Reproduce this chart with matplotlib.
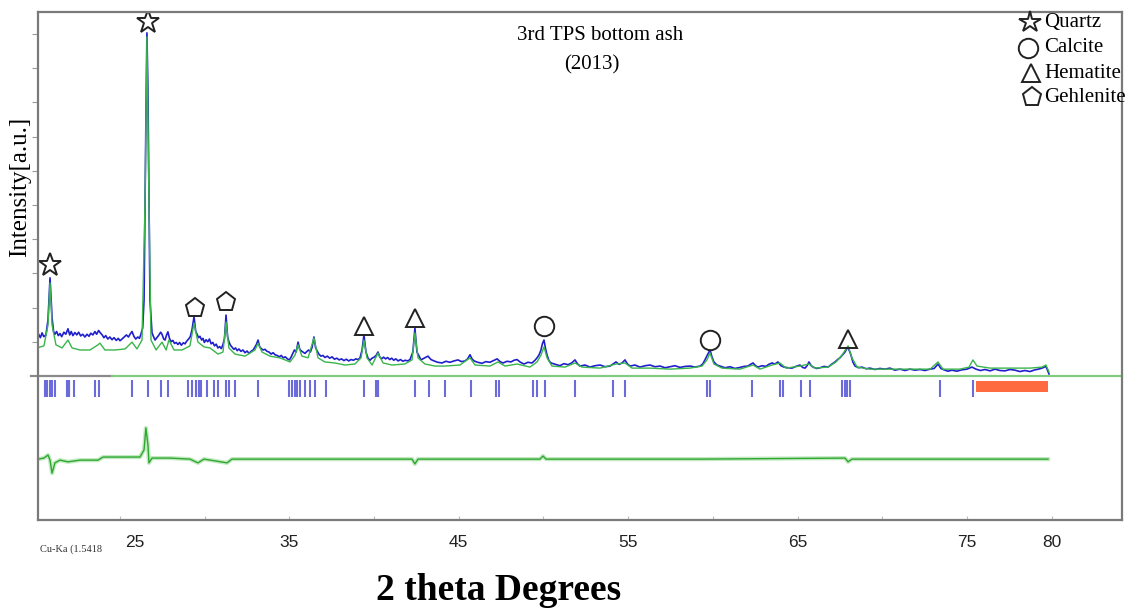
import matplotlib
matplotlib.use("Agg")
import matplotlib.pyplot as plt
from matplotlib.transforms import ScaledTranslation

# observed pattern (blue): (2theta in degrees, intensity in a.u.)
obs_pts = [
    (20.10, 1.14), (20.20, 1.22), (20.30, 1.12), (20.40, 1.26), (20.50, 1.15), (20.63, 1.20),
    (20.75, 1.64), (20.87, 2.87), (20.99, 1.70), (21.08, 1.30), (21.16, 1.22), (21.26, 1.30),
    (21.36, 1.18), (21.46, 1.24), (21.56, 1.15), (21.69, 1.28), (21.80, 1.22), (21.93, 1.38),
    (22.03, 1.20), (22.12, 1.30), (22.22, 1.18), (22.34, 1.27), (22.45, 1.20), (22.56, 1.28),
    (22.68, 1.17), (22.80, 1.22), (22.93, 1.14), (23.05, 1.22), (23.17, 1.16), (23.28, 1.25),
    (23.40, 1.20), (23.52, 1.30), (23.62, 1.22), (23.74, 1.33), (23.84, 1.26), (23.95, 1.20),
    (24.05, 1.12), (24.16, 1.18), (24.28, 1.08), (24.40, 1.14), (24.53, 1.06), (24.65, 1.12),
    (24.78, 1.04), (24.90, 1.10), (25.00, 1.03), (25.12, 1.08), (25.25, 1.14), (25.38, 1.20),
    (25.50, 1.14), (25.62, 1.24), (25.71, 1.30), (25.82, 1.16), (25.93, 1.08), (26.05, 1.14),
    (26.15, 1.10), (26.24, 1.23), (26.34, 1.40), (26.42, 2.22), (26.53, 7.49), (26.59, 10.03),
    (26.65, 8.36), (26.77, 2.22), (26.89, 1.26), (26.98, 1.15), (27.07, 1.05), (27.18, 1.12),
    (27.30, 1.20), (27.40, 1.28), (27.48, 1.22), (27.58, 1.08), (27.66, 1.05), (27.75, 1.20),
    (27.83, 1.29), (27.92, 1.10), (28.02, 1.00), (28.12, 1.04), (28.22, 0.95), (28.32, 0.98),
    (28.42, 0.92), (28.52, 0.98), (28.62, 0.90), (28.74, 0.97), (28.84, 0.94), (28.94, 1.02),
    (29.05, 1.08), (29.15, 1.15), (29.25, 1.35), (29.37, 1.73), (29.47, 1.30), (29.55, 1.22),
    (29.64, 1.12), (29.72, 1.16), (29.82, 1.05), (29.90, 1.10), (29.98, 0.98), (30.08, 1.06),
    (30.18, 1.00), (30.28, 1.08), (30.38, 0.94), (30.48, 0.98), (30.58, 0.88), (30.68, 0.93),
    (30.78, 0.82), (30.88, 0.86), (30.98, 0.80), (31.08, 0.92), (31.17, 1.10), (31.26, 1.78),
    (31.35, 1.15), (31.43, 1.00), (31.52, 0.90), (31.62, 0.84), (31.72, 0.78), (31.82, 0.82),
    (31.92, 0.74), (32.02, 0.79), (32.14, 0.72), (32.26, 0.76), (32.38, 0.68), (32.50, 0.73),
    (32.62, 0.66), (32.74, 0.72), (32.86, 0.76), (32.96, 0.84), (33.05, 0.92), (33.15, 1.05),
    (33.24, 0.86), (33.34, 0.80), (33.45, 0.76), (33.56, 0.78), (33.68, 0.72), (33.80, 0.70),
    (33.92, 0.64), (34.04, 0.68), (34.15, 0.62), (34.28, 0.60), (34.40, 0.56), (34.52, 0.60),
    (34.64, 0.53), (34.76, 0.56), (34.88, 0.50), (35.00, 0.47), (35.10, 0.55), (35.20, 0.66),
    (35.30, 0.76), (35.40, 0.70), (35.51, 0.99), (35.60, 0.80), (35.68, 0.74), (35.80, 0.70),
    (35.92, 0.66), (36.04, 0.72), (36.14, 0.76), (36.24, 0.70), (36.34, 0.84), (36.45, 1.14),
    (36.55, 0.82), (36.63, 0.74), (36.74, 0.64), (36.86, 0.58), (36.98, 0.60), (37.10, 0.54),
    (37.24, 0.58), (37.38, 0.52), (37.52, 0.56), (37.66, 0.49), (37.80, 0.52), (37.94, 0.47),
    (38.08, 0.50), (38.22, 0.45), (38.36, 0.49), (38.50, 0.44), (38.64, 0.48), (38.78, 0.46),
    (38.92, 0.50), (39.06, 0.48), (39.17, 0.53), (39.29, 0.76), (39.40, 1.20), (39.52, 0.70),
    (39.64, 0.52), (39.76, 0.46), (39.88, 0.52), (40.00, 0.55), (40.12, 0.60), (40.23, 0.70),
    (40.33, 0.56), (40.44, 0.50), (40.56, 0.55), (40.68, 0.50), (40.80, 0.54), (40.92, 0.48),
    (41.04, 0.52), (41.16, 0.46), (41.28, 0.50), (41.42, 0.44), (41.56, 0.48), (41.70, 0.43),
    (41.84, 0.46), (41.98, 0.44), (42.12, 0.48), (42.29, 0.70), (42.41, 1.40), (42.53, 0.70),
    (42.77, 0.47), (42.95, 0.52), (43.18, 0.58), (43.36, 0.48), (43.54, 0.44), (43.76, 0.40),
    (44.01, 0.38), (44.24, 0.43), (44.48, 0.40), (44.72, 0.44), (44.95, 0.47), (45.16, 0.42),
    (45.37, 0.44), (45.52, 0.50), (45.66, 0.62), (45.78, 0.50), (45.90, 0.44), (46.12, 0.40),
    (46.37, 0.37), (46.60, 0.42), (46.84, 0.40), (47.05, 0.45), (47.26, 0.50), (47.44, 0.42),
    (47.61, 0.38), (47.85, 0.43), (48.08, 0.41), (48.26, 0.46), (48.44, 0.48), (48.64, 0.40),
    (48.85, 0.35), (49.08, 0.40), (49.32, 0.38), (49.50, 0.46), (49.62, 0.53), (49.74, 0.62),
    (49.85, 0.76), (49.94, 0.95), (50.03, 1.05), (50.12, 0.80), (50.21, 0.61), (50.32, 0.45),
    (50.44, 0.38), (50.70, 0.34), (50.97, 0.30), (51.20, 0.36), (51.45, 0.33), (51.66, 0.38),
    (51.86, 0.47), (52.00, 0.36), (52.15, 0.29), (52.45, 0.32), (52.74, 0.26), (53.04, 0.30),
    (53.34, 0.32), (53.64, 0.27), (53.93, 0.29), (54.10, 0.35), (54.28, 0.41), (54.46, 0.34),
    (54.64, 0.38), (54.81, 0.47), (54.96, 0.35), (55.11, 0.29), (55.40, 0.32), (55.70, 0.26),
    (56.00, 0.30), (56.29, 0.32), (56.58, 0.27), (56.88, 0.29), (57.18, 0.24), (57.47, 0.27),
    (57.76, 0.30), (58.06, 0.25), (58.36, 0.28), (58.65, 0.29), (58.94, 0.26), (59.24, 0.29),
    (59.40, 0.35), (59.53, 0.47), (59.68, 0.62), (59.83, 0.76), (59.95, 0.55), (60.06, 0.41),
    (60.24, 0.32), (60.42, 0.29), (60.72, 0.24), (61.01, 0.27), (61.30, 0.22), (61.60, 0.25),
    (61.84, 0.28), (62.07, 0.29), (62.22, 0.34), (62.37, 0.38), (62.52, 0.30), (62.66, 0.26),
    (62.90, 0.30), (63.13, 0.28), (63.30, 0.34), (63.49, 0.38), (63.66, 0.35), (63.84, 0.41),
    (64.02, 0.30), (64.20, 0.26), (64.44, 0.24), (64.67, 0.23), (64.90, 0.28), (65.14, 0.32),
    (65.30, 0.25), (65.44, 0.23), (65.56, 0.30), (65.67, 0.41), (65.80, 0.30), (65.91, 0.26),
    (66.12, 0.22), (66.32, 0.24), (66.56, 0.28), (66.80, 0.26), (67.00, 0.34), (67.21, 0.41),
    (67.36, 0.48), (67.50, 0.53), (67.66, 0.62), (67.80, 0.70), (67.90, 0.80), (67.98, 0.82),
    (68.07, 0.72), (68.15, 0.61), (68.27, 0.40), (68.39, 0.29), (68.60, 0.24), (68.80, 0.26),
    (69.04, 0.21), (69.27, 0.23), (69.56, 0.19), (69.86, 0.22), (70.16, 0.20), (70.45, 0.23),
    (70.74, 0.17), (71.04, 0.20), (71.34, 0.16), (71.63, 0.20), (71.93, 0.17), (72.23, 0.19),
    (72.52, 0.16), (72.82, 0.20), (73.06, 0.22), (73.29, 0.35), (73.46, 0.22), (73.64, 0.18),
    (73.88, 0.14), (74.11, 0.17), (74.40, 0.14), (74.70, 0.18), (75.00, 0.20), (75.29, 0.26),
    (75.53, 0.20), (75.80, 0.16), (76.06, 0.19), (76.36, 0.15), (76.65, 0.20), (76.95, 0.16),
    (77.24, 0.15), (77.54, 0.19), (77.83, 0.17), (78.12, 0.13), (78.42, 0.16), (78.72, 0.13),
    (79.01, 0.18), (79.22, 0.20), (79.43, 0.23), (79.66, 0.28), (79.84, 0.06),
]
obs_x, obs_y = zip(*obs_pts)

# calculated pattern (green)
calc_pts = [
    (20.10, 0.82), (20.51, 0.88), (20.75, 1.49), (20.87, 2.72), (20.99, 1.49), (21.22, 0.91),
    (21.58, 0.82), (21.93, 1.05), (22.17, 0.82), (22.64, 0.76), (23.23, 0.76), (23.70, 0.91),
    (23.82, 0.96), (24.11, 0.76), (24.70, 0.76), (25.30, 0.79), (25.71, 0.99), (26.00, 0.79),
    (26.30, 1.05), (26.48, 5.12), (26.59, 9.91), (26.71, 5.12), (26.83, 1.05), (27.13, 0.76),
    (27.48, 0.99), (27.72, 0.76), (27.89, 1.05), (28.19, 0.76), (28.66, 0.76), (29.13, 0.88),
    (29.37, 1.55), (29.60, 0.99), (29.96, 0.85), (30.31, 0.82), (30.79, 0.64), (31.08, 0.70),
    (31.26, 1.58), (31.43, 0.82), (31.79, 0.64), (32.38, 0.58), (32.97, 0.76), (33.15, 0.96),
    (33.38, 0.70), (33.85, 0.58), (34.44, 0.53), (35.04, 0.41), (35.33, 0.61), (35.51, 0.91),
    (35.74, 0.58), (36.10, 0.53), (36.45, 1.11), (36.69, 0.53), (37.10, 0.41), (37.69, 0.38),
    (38.28, 0.32), (38.87, 0.35), (39.23, 0.53), (39.40, 1.05), (39.58, 0.53), (39.88, 0.32),
    (40.23, 0.67), (40.53, 0.38), (41.06, 0.32), (41.82, 0.35), (42.24, 0.47), (42.41, 1.26),
    (42.59, 0.53), (43.00, 0.35), (43.60, 0.29), (44.19, 0.29), (45.07, 0.32), (45.66, 0.53),
    (45.96, 0.32), (46.84, 0.29), (47.31, 0.41), (47.73, 0.29), (48.44, 0.35), (49.20, 0.26),
    (49.62, 0.41), (49.85, 0.61), (50.03, 0.85), (50.21, 0.53), (50.50, 0.29), (51.27, 0.26),
    (51.86, 0.38), (52.27, 0.26), (53.34, 0.23), (54.28, 0.35), (54.81, 0.38), (55.23, 0.23),
    (56.29, 0.23), (57.47, 0.20), (58.65, 0.23), (59.36, 0.29), (59.65, 0.47), (59.83, 0.67),
    (60.06, 0.35), (60.54, 0.23), (61.60, 0.20), (62.37, 0.32), (62.78, 0.20), (63.49, 0.32),
    (63.96, 0.38), (64.32, 0.23), (65.14, 0.29), (65.67, 0.35), (66.03, 0.23), (66.80, 0.26),
    (67.27, 0.41), (67.62, 0.61), (67.98, 0.88), (68.21, 0.53), (68.51, 0.26), (69.27, 0.20),
    (70.45, 0.20), (71.63, 0.20), (72.82, 0.20), (73.29, 0.41), (73.58, 0.20), (74.58, 0.20),
    (75.12, 0.26), (75.35, 0.47), (75.59, 0.29), (76.36, 0.23), (77.54, 0.23), (78.72, 0.23),
    (79.43, 0.26), (79.66, 0.32), (79.84, 0.12),
]
calc_x, calc_y = zip(*calc_pts)

# difference curve (obs - calc), drawn offset below the Bragg marks
diff_x = [20.16, 20.51, 20.75, 20.87, 20.99, 21.16, 21.46, 21.93, 22.64, 23.70, 24.00, 25.00,
          26.18, 26.42, 26.53, 26.65, 26.71, 26.89, 27.95, 29.13, 29.60, 29.96, 31.32, 31.61,
          35.63, 39.17, 42.24, 42.41, 42.59, 49.79, 49.97, 50.15, 59.24, 67.80, 67.98, 68.21,
          79.78]
diff_y = [-2.43, -2.40, -2.31, -2.46, -2.84, -2.54, -2.46, -2.51, -2.46, -2.46, -2.37, -2.37,
          -2.37, -2.16, -1.52, -2.02, -2.54, -2.40, -2.40, -2.43, -2.54, -2.43, -2.54, -2.43,
          -2.43, -2.43, -2.43, -2.57, -2.43, -2.43, -2.34, -2.43, -2.43, -2.40, -2.51, -2.43,
          -2.43]

# Bragg reflection positions
bragg_pos = [20.57, 20.72, 20.87, 21.01, 21.16, 21.87, 21.99, 22.01, 22.28, 23.52, 23.76,
             25.71, 26.65, 27.42, 27.83, 29.01, 29.25, 29.49, 29.66, 29.68, 29.78, 30.14,
             30.55, 30.79, 31.26, 31.43, 31.79, 33.15, 34.98, 35.15, 35.33, 35.45, 35.63,
             35.92, 36.22, 36.51, 37.16, 39.40, 40.11, 40.23, 40.25, 42.41, 43.24, 44.19,
             45.72, 47.20, 47.37, 49.38, 49.62, 50.09, 51.86, 54.10, 54.81, 59.65, 59.83,
             62.31, 63.96, 64.14, 65.20, 65.73, 67.62, 67.80, 67.92, 68.09, 73.41, 75.35]
excluded = (75.53, 79.78)

# phase markers over the peaks: (2theta, height of marker)
quartz = ([20.87, 26.65], [3.25, 10.35])
calcite = ([50.03, 59.83], [1.46, 1.05])
hematite = ([39.40, 42.41, 67.98], [1.46, 1.70, 1.08])
gehlenite = ([29.43, 31.26], [1.99, 2.16])

phases = ["Quartz", "Calcite", "Hematite", "Gehlenite"]
phase_markers = ["*", "o", "^", "p"]

x_ticks = [25, 35, 45, 55, 65, 75, 80]
x_minor = [30, 40, 50, 60, 70]

W, H = 1133, 610
SERIF = ["Liberation Serif", "DejaVu Serif"]

fig = plt.figure(figsize=(W / 100, H / 100), dpi=100)
ax = fig.add_axes([38 / W, 1 - 520 / H, (1122 - 38) / W, (520 - 12) / H])
ax.set_xlim(20.16, 84.15)
ax.set_ylim(-4.21, 10.64)

# zero line of the upper panel
ax.plot([19.75, 24.53], [0, 0], color="#8a8a8a", lw=1.6, clip_on=False)
ax.plot([24.53, 84.15], [0, 0], color="#80cc80", lw=1.6)

ax.plot(obs_x, obs_y, color="#1f1fcc", lw=1.2)
ax.plot(calc_x, calc_y, color="#39b54a", lw=1.0)

ax.vlines(bragg_pos, -0.61, -0.12, color="#6b6bdc", lw=1.5)
ax.fill_between(excluded, -0.47, -0.15, color="#ff6b40", lw=0)

ax.plot(diff_x, diff_y, color="#a8e0a8", lw=3.0, alpha=0.7)
ax.plot(diff_x, diff_y, color="#2ea82e", lw=1.0)

mk = dict(ls="none", mfc="none", mec="#222222", mew=1.4)
ax.plot(*quartz, marker="*", ms=17, **mk)
ax.plot(*calcite, marker="o", ms=14, **mk)
ax.plot(*hematite, marker="^", ms=13, **mk)
ax.plot(*gehlenite, marker="p", ms=14, **mk)

for side in ["left", "right", "top", "bottom"]:
    ax.spines[side].set_color("#7a7a7a")
    ax.spines[side].set_linewidth(1.6)

ax.set_yticks(range(1, 11))
ax.set_yticklabels([])
ax.tick_params(axis="y", direction="out", length=4, width=0.8, colors="#9a9a9a")

ax.set_xticks(x_ticks)
ax.set_xticklabels([str(t) for t in x_ticks], fontsize=12.5, family="Liberation Sans",
                   color="#222222")
ax.set_xticks(x_minor, minor=True)
ax.tick_params(axis="x", which="both", direction="in", length=3, width=0.8,
               color="#bbbbbb", pad=11)
first = ax.get_xticklabels()[0]
first.set_transform(first.get_transform() + ScaledTranslation(0.15, 0, fig.dpi_scale_trans))

# titles and labels
fig.text(600 / W, 1 - 36 / H, "3rd TPS bottom ash", ha="center", va="center",
         fontsize=15, family=SERIF)
fig.text(592 / W, 1 - 65 / H, "(2013)", ha="center", va="center", fontsize=15, family=SERIF)
fig.text(20 / W, 1 - 187 / H, "Intensity[a.u.]", rotation=90, ha="center", va="center",
         fontsize=18, family=SERIF)
fig.text(499 / W, 1 - 590 / H, "2 theta Degrees", ha="center", va="center",
         fontsize=27, fontweight="bold", family=SERIF)
fig.text(40 / W, 1 - 549 / H, "Cu-Ka (1.5418", ha="left", va="center", fontsize=7.5,
         family=SERIF, color="#333333")

# legend of phases
leg_y = [22, 48, 73, 97]
leg_x = [1030, 1028, 1031, 1032]
leg_ms = [16, 14, 13, 14]
for name, m, lx, ly, ms in zip(phases, phase_markers, leg_x, leg_y, leg_ms):
    fig.lines.append(plt.Line2D([lx / W], [1 - ly / H], marker=m, ms=ms,
                                transform=fig.transFigure, **mk))
    fig.text(1044 / W, 1 - ly / H, name, ha="left", va="center", fontsize=15, family=SERIF)

fig.savefig("out.png", dpi=100)
